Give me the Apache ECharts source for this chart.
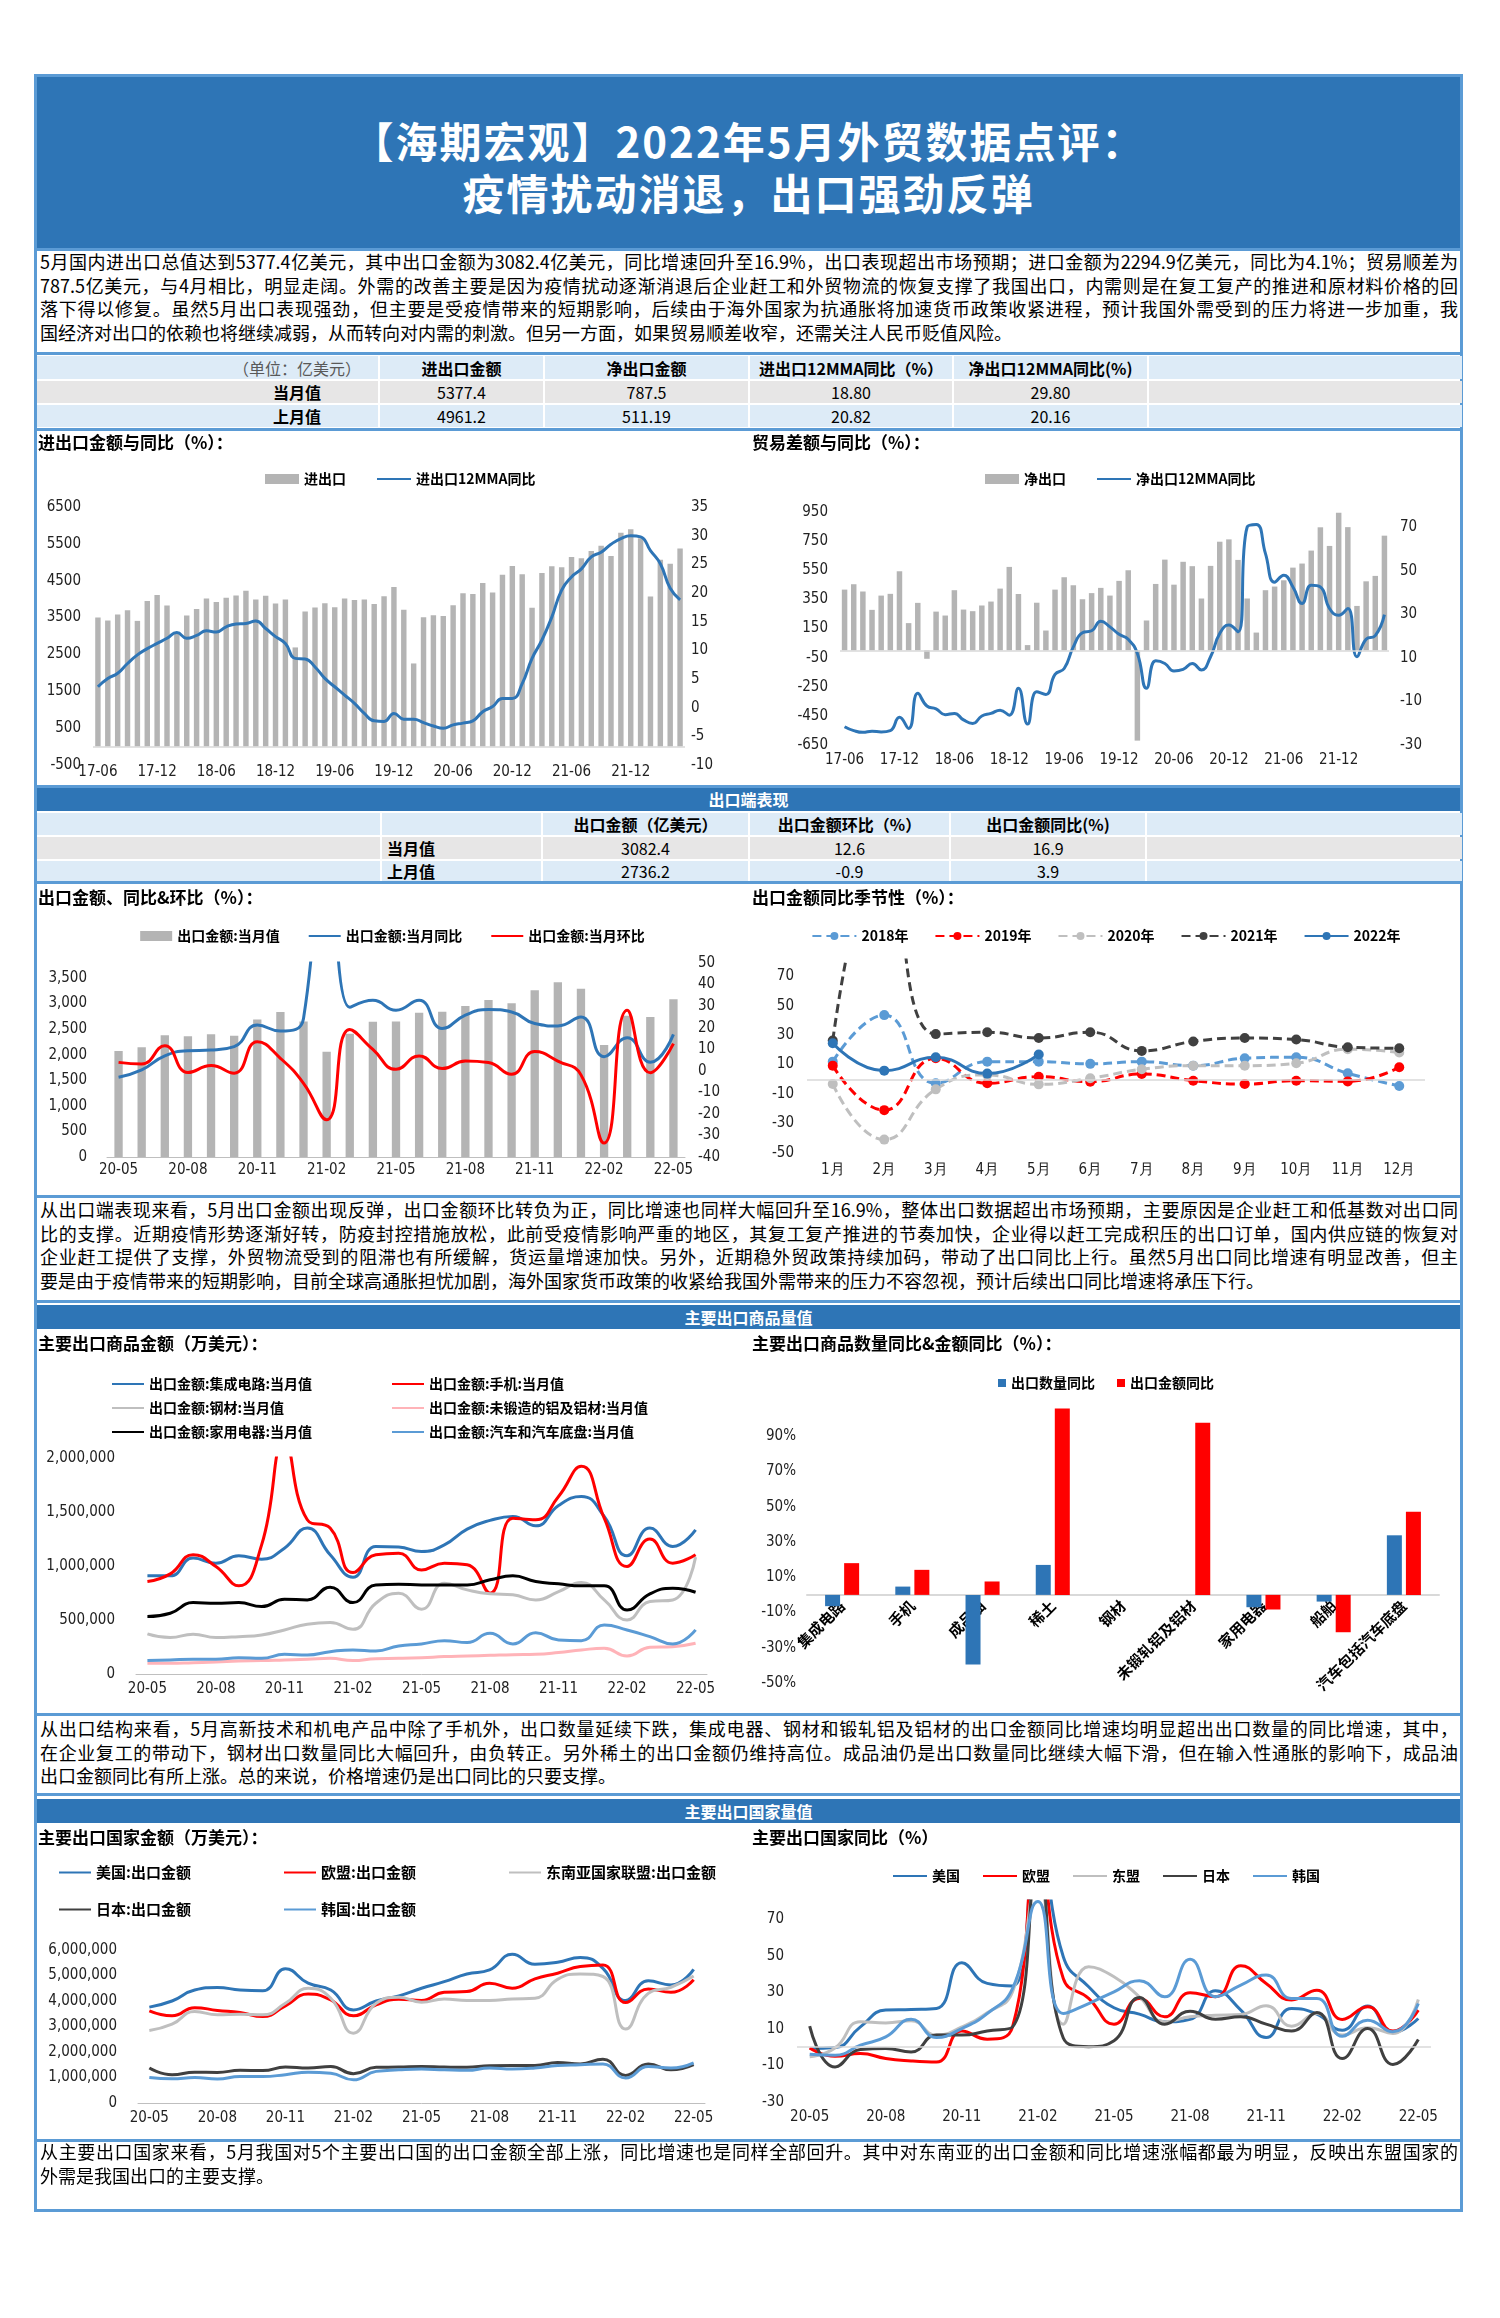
<!DOCTYPE html>
<html>
<head>
<meta charset="utf-8">
<title>海期宏观 2022年5月外贸数据点评</title>
<script src="https://cdn.jsdelivr.net/npm/echarts@6/dist/echarts.min.js"></script>
<style>
    body { margin: 0; width: 1500px; height: 2318px; background: #fff; position: relative; color: #000;
           font-family: "Noto Sans CJK SC", sans-serif; }
    .abs { position: absolute; }
    .frame { left: 34px; top: 74px; width: 1429px; height: 2138px; border: 3px solid #5B9BD5; box-sizing: border-box; }
    .band { left: 37px; width: 1423px; background: #2E75B6; color: #fff; font-weight: bold; text-align: center; }
    .hline { left: 36px; width: 1427px; height: 3px; background: #5B9BD5; }
    .para { left: 40px; width: 1418px; font-size: 18px; line-height: 23.5px; }
    .para div { white-space: nowrap; text-align: justify; text-align-last: justify; }
    .para div.last { text-align-last: left; }
    .ctitle { font-size: 17px; font-weight: bold; line-height: 22px; z-index: 2; }
    .cell { position: absolute; display: flex; align-items: center; justify-content: center; font-size: 16px; box-sizing: border-box; }
    .chart { position: absolute; }
</style>
</head>
<body>
<div class="abs frame"></div>

<div class="abs band" style="top:77px;height:171px;">
    <div style="font-size:42px;letter-spacing:2px;line-height:52px;padding-top:37px;">【海期宏观】2022年5月外贸数据点评：</div>
    <div style="font-size:42px;letter-spacing:2px;line-height:52px;">疫情扰动消退，出口强劲反弹</div>
</div>
<div class="abs hline" style="top:248px"></div>

<div class="abs para" style="top:250px">
    <div>5月国内进出口总值达到5377.4亿美元，其中出口金额为3082.4亿美元，同比增速回升至16.9%，出口表现超出市场预期；进口金额为2294.9亿美元，同比为4.1%；贸易顺差为</div>
    <div>787.5亿美元，与4月相比，明显走阔。外需的改善主要是因为疫情扰动逐渐消退后企业赶工和外贸物流的恢复支撑了我国出口，内需则是在复工复产的推进和原材料价格的回</div>
    <div>落下得以修复。虽然5月出口表现强劲，但主要是受疫情带来的短期影响，后续由于海外国家为抗通胀将加速货币政策收紧进程，预计我国外需受到的压力将进一步加重，我</div>
    <div class="last">国经济对出口的依赖也将继续减弱，从而转向对内需的刺激。但另一方面，如果贸易顺差收窄，还需关注人民币贬值风险。</div>
</div>
<div class="abs hline" style="top:352px"></div>
<div id="table1"></div>
<div class="abs hline" style="top:428px"></div>

<div class="abs ctitle" style="left:38px;top:431px">进出口金额与同比（%）：</div>
<div class="abs ctitle" style="left:752px;top:431px">贸易差额与同比（%）：</div>
<div id="c1" class="chart" style="left:36px;top:432px;width:713px;height:353px"></div>
<div id="c2" class="chart" style="left:749px;top:432px;width:714px;height:353px"></div>

<div class="abs hline" style="top:785px"></div>
<div class="abs band" style="top:788px;height:23px;font-size:16px;line-height:23px;">出口端表现</div>
<div id="table2"></div>
<div class="abs hline" style="top:881px"></div>

<div class="abs ctitle" style="left:38px;top:886px">出口金额、同比&amp;环比（%）：</div>
<div class="abs ctitle" style="left:752px;top:886px">出口金额同比季节性（%）：</div>
<div id="c3" class="chart" style="left:36px;top:883px;width:713px;height:312px"></div>
<div id="c4" class="chart" style="left:749px;top:883px;width:714px;height:312px"></div>

<div class="abs hline" style="top:1195px"></div>
<div class="abs para" style="top:1198px">
    <div>从出口端表现来看，5月出口金额出现反弹，出口金额环比转负为正，同比增速也同样大幅回升至16.9%，整体出口数据超出市场预期，主要原因是企业赶工和低基数对出口同</div>
    <div>比的支撑。近期疫情形势逐渐好转，防疫封控措施放松，此前受疫情影响严重的地区，其复工复产推进的节奏加快，企业得以赶工完成积压的出口订单，国内供应链的恢复对</div>
    <div>企业赶工提供了支撑，外贸物流受到的阻滞也有所缓解，货运量增速加快。另外，近期稳外贸政策持续加码，带动了出口同比上行。虽然5月出口同比增速有明显改善，但主</div>
    <div class="last">要是由于疫情带来的短期影响，目前全球高通胀担忧加剧，海外国家货币政策的收紧给我国外需带来的压力不容忽视，预计后续出口同比增速将承压下行。</div>
</div>
<div class="abs hline" style="top:1300px"></div>
<div class="abs band" style="top:1305px;height:24px;font-size:16px;line-height:24px;">主要出口商品量值</div>

<div class="abs ctitle" style="left:38px;top:1332px">主要出口商品金额（万美元）：</div>
<div class="abs ctitle" style="left:752px;top:1332px">主要出口商品数量同比&amp;金额同比（%）：</div>
<div id="c5" class="chart" style="left:36px;top:1330px;width:713px;height:383px"></div>
<div id="c6" class="chart" style="left:749px;top:1330px;width:714px;height:383px"></div>

<div class="abs hline" style="top:1713px"></div>
<div class="abs para" style="top:1717px">
    <div>从出口结构来看，5月高新技术和机电产品中除了手机外，出口数量延续下跌，集成电器、钢材和锻轧铝及铝材的出口金额同比增速均明显超出出口数量的同比增速，其中，</div>
    <div>在企业复工的带动下，钢材出口数量同比大幅回升，由负转正。另外稀土的出口金额仍维持高位。成品油仍是出口数量同比继续大幅下滑，但在输入性通胀的影响下，成品油</div>
    <div class="last">出口金额同比有所上涨。总的来说，价格增速仍是出口同比的只要支撑。</div>
</div>
<div class="abs hline" style="top:1793px"></div>
<div class="abs band" style="top:1799px;height:24px;font-size:16px;line-height:24px;">主要出口国家量值</div>

<div class="abs ctitle" style="left:38px;top:1826px">主要出口国家金额（万美元）：</div>
<div class="abs ctitle" style="left:752px;top:1826px">主要出口国家同比（%）</div>
<div id="c7" class="chart" style="left:36px;top:1824px;width:713px;height:315px"></div>
<div id="c8" class="chart" style="left:749px;top:1824px;width:714px;height:315px"></div>

<div class="abs hline" style="top:2139px"></div>
<div class="abs para" style="top:2140px">
    <div>从主要出口国家来看，5月我国对5个主要出口国的出口金额全部上涨，同比增速也是同样全部回升。其中对东南亚的出口金额和同比增速涨幅都最为明显，反映出东盟国家的</div>
    <div class="last">外需是我国出口的主要支撑。</div>
</div>

<script>
    // ---- 数据 ----
    var months60 = ['17-06', '17-07', '17-08', '17-09', '17-10', '17-11', '17-12',
        '18-01', '18-02', '18-03', '18-04', '18-05', '18-06', '18-07', '18-08', '18-09', '18-10', '18-11', '18-12',
        '19-01', '19-02', '19-03', '19-04', '19-05', '19-06', '19-07', '19-08', '19-09', '19-10', '19-11', '19-12',
        '20-01', '20-02', '20-03', '20-04', '20-05', '20-06', '20-07', '20-08', '20-09', '20-10', '20-11', '20-12',
        '21-01', '21-02', '21-03', '21-04', '21-05', '21-06', '21-07', '21-08', '21-09', '21-10', '21-11', '21-12',
        '22-01', '22-02', '22-03', '22-04', '22-05'];
    var months25 = ['20-05', '20-06', '20-07', '20-08', '20-09', '20-10', '20-11', '20-12',
        '21-01', '21-02', '21-03', '21-04', '21-05', '21-06', '21-07', '21-08', '21-09', '21-10', '21-11', '21-12',
        '22-01', '22-02', '22-03', '22-04', '22-05'];
    var monthNames = ['1月', '2月', '3月', '4月', '5月', '6月', '7月', '8月', '9月', '10月', '11月', '12月'];

    // 进出口（亿美元）与12MMA同比
    var tradeTotal = [3500, 3420, 3580, 3700, 3410, 3950, 4115, 3830, 3100, 3555, 3730, 4015, 3925, 4035, 4100, 4225, 3990, 4090, 3880, 3990,
        2690, 3665, 3775, 3890, 3780, 4015, 3980, 3990, 3870, 4080, 4330, 3710, 2255, 3510, 3565, 3540, 3835, 4160, 4140, 4440,
        4180, 4665, 4900, 4675, 3765, 4710, 4890, 4865, 5145, 5110, 5305, 5450, 5170, 5800, 5895, 5650, 4070, 5070, 4961.2, 5377.4];
    var tradeYoy12 = [3.65, 5.1, 6.0, 7.7, 9.2, 10.3, 11.2, 12.1, 13.1, 12.1, 12.6, 13.4, 13.2, 14.1, 14.6, 14.7, 15.1, 13.8, 12.4, 11.2,
        8.6, 8.5, 7.1, 5.1, 3.65, 2.2, 0.75, -1.0, -2.3, -2.4, -1.0, -2.0, -2.0, -2.6, -3.2, -3.6, -3.0, -2.7, -2.3, -0.7,
        0.2, 1.6, 1.6, 4.2, 8.6, 11.8, 15.8, 20.5, 22.8, 24.2, 26.3, 27.1, 28.5, 29.5, 30.0, 29.8, 27.4, 25.1, 20.82, 18.80];

    // 净出口（亿美元）与12MMA同比
    var netExport = [417, 454, 404, 278, 376, 388, 543, 187, 326, -58, 266, 239, 413, 280, 269, 308, 335, 424, 573, 387,
        36, 327, 136, 417, 502, 447, 351, 393, 429, 376, 477, 550, -620, 205, 456, 623, 451, 608, 578, 356,
        580, 746, 762, 621, 356, 122, 413, 438, 481, 568, 596, 685, 845, 717, 944, 846, 305, 474, 511.19, 787.5];
    var netYoy12 = [-21.6, -23.4, -24.2, -23.7, -24.0, -23.4, -17.3, -22.4, -6.3, -12.1, -13.4, -16.1, -15.5, -18.5, -20.1, -16.7, -15.5, -14.0, -16.3, -4.0,
        -20.4, -5.6, -6.8, 2.4, 5.1, 15.0, 21.5, 22.4, 26.8, 24.2, 20.8, 18.5, 12.0, -4.0, 8.6, 7.4, 4.0, 4.7, 7.4, 4.4,
        10.5, 21.1, 25.0, 21.9, 70.0, 71.2, 57.8, 44.7, 47.9, 42.5, 34.9, 43.3, 42.5, 32.6, 29.5, 32.6, 10.5, 18.5, 20.16, 29.80];

    // 出口金额：当月值、同比、环比
    var exportValue = [2071, 2143, 2377, 2357, 2396, 2370, 2688, 2831, 2649, 2058, 2410, 2643, 2649, 2818, 2838, 2948, 3065, 3006, 3260, 3416,
        3286, 2188, 2761, 2736.2, 3082.4];
    var exportYoy = [-3.0, 0.4, 6.9, 9.3, 9.6, 11.2, 21.2, 18.4, 24.3, 154.9, 29.5, 32.7, 28.1, 32.7, 19.6, 25.8, 28.4, 27.3, 21.9, 20.8,
        25.0, 6.5, 15.3, 3.9, 16.9];
    var exportMom = [3.9, 3.2, 11.6, -0.8, 2.4, -1.1, 13.5, 5.8, -5.8, -22.7, 19.2, 9.9, 0.7, 6.9, 1.0, 4.5, 3.8, -1.6, 8.9, 4.5,
        -1.9, -33.5, 28.1, -0.9, 12.6];

    // 出口金额同比季节性
    var yoy2018 = [12.0, 43.6, -2.7, 12.0, 12.0, 10.5, 12.0, 9.3, 14.3, 15.0, 4.1, -4.5];
    var yoy2019 = [9.3, -20.9, 14.3, -2.7, 1.8, -1.6, 3.6, -0.9, -3.2, -0.9, -1.4, 8.2];
    var yoy2020 = [-3.2, -40.9, -6.8, 3.0, -3.4, 0.7, 6.8, 9.3, 9.3, 10.9, 20.5, 18.2];
    var yoy2021 = [26.4, 154.9, 30.7, 32.0, 28.0, 32.0, 19.3, 25.7, 28.0, 27.0, 21.8, 21.1];
    var yoy2022 = [24.5, 5.9, 15.0, 3.9, 16.9];

    // 主要出口商品金额（万美元）
    var goodsIC = [909000, 909000, 1073000, 1026000, 1094000, 1063000, 1165000, 1351000, 1104000, 896000, 1181000, 1175000, 1134000,
        1196000, 1342000, 1422000, 1459000, 1372000, 1561000, 1644000, 1459000, 1094000, 1351000, 1181000, 1335000];
    var goodsPhone = [856000, 927000, 1104000, 995000, 816000, 1196000, 2150000, 1428000, 1351000, 940000, 1104000, 1119000, 964000,
        1026000, 1011000, 748000, 1443000, 1428000, 1644000, 1923000, 1443000, 995000, 1249000, 1026000, 1104000];
    var goodsSteel = [371000, 337000, 368000, 337000, 346000, 362000, 408000, 461000, 476000, 414000, 655000, 748000, 600000,
        841000, 779000, 742000, 733000, 686000, 763000, 847000, 686000, 501000, 671000, 686000, 1082000];
    var goodsAlu = [99000, 99000, 105000, 111000, 121000, 124000, 130000, 136000, 145000, 124000, 142000, 145000, 151000,
        161000, 167000, 173000, 179000, 182000, 198000, 223000, 238000, 167000, 247000, 253000, 284000];
    var goodsAppliance = [532000, 563000, 661000, 655000, 661000, 624000, 692000, 686000, 804000, 661000, 825000, 831000, 825000,
        825000, 825000, 872000, 909000, 856000, 835000, 816000, 816000, 593000, 742000, 794000, 757000];
    var goodsAuto = [124000, 130000, 136000, 136000, 151000, 145000, 182000, 176000, 207000, 223000, 213000, 260000, 278000,
        309000, 291000, 377000, 278000, 383000, 315000, 309000, 454000, 408000, 346000, 278000, 408000];

    // 主要出口商品数量同比&金额同比（%）
    var goodsNames = ['集成电路', '手机', '成品油', '稀土', '钢材', '未锻轧铝及铝材', '家用电器', '船舶', '汽车包括汽车底盘'];
    var goodsQtyYoy = [-6.4, 4.7, -39.5, 17.0, null, null, -7.0, -3.8, 33.8];
    var goodsAmtYoy = [18.0, 14.2, 7.6, 105.7, null, 97.6, -8.3, -21.2, 47.2];

    // 主要出口国家金额（万美元）
    var ctyUS = [3760000, 4000000, 4430000, 4530000, 4430000, 4400000, 5260000, 4700000, 4430000, 3650000, 4000000, 4200000, 4500000,
        4760000, 5060000, 5220000, 5830000, 5440000, 5520000, 5710000, 5280000, 4020000, 4790000, 4630000, 5240000];
    var ctyEU = [3610000, 3420000, 3740000, 3630000, 3550000, 3390000, 3810000, 4270000, 4040000, 3420000, 3850000, 4070000, 4020000,
        4340000, 4370000, 4700000, 4500000, 4870000, 5090000, 5350000, 5410000, 3940000, 4470000, 4340000, 4830000];
    var ctyASEAN = [2840000, 3090000, 3590000, 3460000, 3480000, 3460000, 3910000, 4500000, 4110000, 2740000, 3910000, 4150000, 3950000,
        4080000, 4020000, 4020000, 4080000, 4110000, 4850000, 5060000, 4960000, 2900000, 4300000, 4540000, 4980000];
    var ctyJP = [1370000, 1110000, 1210000, 1200000, 1280000, 1270000, 1410000, 1370000, 1430000, 1150000, 1400000, 1410000, 1430000,
        1410000, 1400000, 1460000, 1470000, 1470000, 1590000, 1530000, 1720000, 1080000, 1530000, 1300000, 1500000];
    var ctyKR = [1000000, 950000, 1000000, 940000, 1040000, 1040000, 1110000, 1210000, 1170000, 910000, 1240000, 1300000, 1330000,
        1300000, 1280000, 1370000, 1330000, 1370000, 1470000, 1500000, 1530000, 980000, 1430000, 1370000, 1570000];

    // 主要出口国家同比（%）
    var yoyUS = [-0.7, -0.2, 11.1, 20.3, 20.6, 21.2, 46.2, 34.9, 33.5, 120, 49.5, 33.1, 21.6, 18.1, 13.9, 15.2, 30.9, 20.3, 5.3, 21.2,
        18.1, 9.3, 22.5, 8.0, 15.7];
    var yoyEU = [-0.4, -5.0, -3.5, -6.2, -7.5, -8.1, 8.8, 4.4, 11.1, 110, 37.6, 26.7, 12.6, 26.7, 16.6, 29.8, 27.6, 44.6, 34.9, 25.8,
        31.2, 15.2, 22.1, 8.8, 20.3];
    var yoyASEAN = [-5.3, -0.4, 13.9, 13.3, 14.4, 6.6, 11.1, 18.8, 30.3, 90, 12.6, 44.0, 38.5, 27.6, 13.9, 16.6, 17.5, 17.9, 22.7, 11.5,
        18.4, 6.6, 10.6, 7.5, 26.1];
    var yoyJP = [11.5, -10.8, -1.3, -0.7, -2.6, 6.6, 6.6, 8.9, 11.1, 100, 5.0, 0.3, 3.5, 27.2, 12.6, 19.7, 15.3, 16.6, 12.6, 8.9,
        19.0, -6.2, 10.2, -9.5, 4.2];
    var yoyKR = [-3.9, -4.4, 1.1, 5.6, 15.3, 5.3, 10.2, 18.4, 32.2, 79.7, 18.4, 23.9, 30.3, 36.4, 27.6, 48.1, 27.6, 34.0, 39.5, 26.7,
        26.7, 6.0, 14.8, 8.4, 23.9];

    // 表格
    var table1Cells = [
        ['（单位：亿美元）', '进出口金额', '净出口金额', '进出口12MMA同比（%）', '净出口12MMA同比(%)', ''],
        ['当月值', '5377.4', '787.5', '18.80', '29.80', ''],
        ['上月值', '4961.2', '511.19', '20.82', '20.16', '']
    ];
    var table2Cells = [
        ['', '', '出口金额（亿美元）', '出口金额环比（%）', '出口金额同比(%)', ''],
        ['', '当月值', '3082.4', '12.6', '16.9', ''],
        ['', '上月值', '2736.2', '-0.9', '3.9', '']
    ];

    // ---- 表格绘制 ----
    var rowColors = ['#DDEBF7', '#E7E6E6', '#DDEBF7'];

    function makeTable(holderId, edges, rows, cells, labelCol, labelStyle) {
        var holder = document.getElementById(holderId);
        cells.forEach(function (row, r) {
            row.forEach(function (txt, k) {
                var d = document.createElement('div');
                d.className = 'cell';
                d.style.left = (edges[k] + 1) + 'px';
                d.style.width = (edges[k + 1] - edges[k] - 2) + 'px';
                d.style.top = rows[r][0] + 'px';
                d.style.height = (rows[r][1] - rows[r][0]) + 'px';
                d.style.background = rowColors[r];
                if (r === 0 || k === labelCol) d.style.fontWeight = 'bold';
                if (k === labelCol) {
                    for (var s in labelStyle) d.style[s] = labelStyle[s];
                }
                if (holderId === 'table1' && r === 0 && k === 0) {
                    d.style.fontWeight = 'normal';
                    d.style.color = '#595959';
                }
                d.textContent = txt;
                holder.appendChild(d);
            });
        });
    }

    makeTable('table1', [36, 379, 544, 749, 953, 1148, 1463], [[356, 379], [381, 403], [405, 427]], table1Cells, 0,
        {paddingLeft: '179px'});
    makeTable('table2', [36, 381, 542, 749, 950, 1146, 1463], [[813, 835], [837, 859], [861, 881]], table2Cells, 1,
        {justifyContent: 'flex-start', paddingLeft: '5px'});

    // ---- 图表 ----
    var CJK = "'Noto Sans CJK SC', sans-serif";
    var NARROW = "'Liberation Sans Narrow', 'DejaVu Sans Condensed', sans-serif";
    var legendText = {fontSize: 14, fontWeight: 'bold', color: '#000', fontFamily: CJK};
    var tickText = {fontFamily: NARROW, fontSize: 15, color: '#222'};
    // 图例里的折线只画线，不画圆点
    var lineOnly = {opacity: 0};

    function plain(v) {
        return String(v);
    }

    function commas(v) {
        return v.toLocaleString('en-US');
    }

    function yAxisOf(min, max, interval, margin, formatter, hideMax) {
        return {
            type: 'value', min: min, max: max, interval: interval,
            splitLine: {show: false}, axisLine: {show: false}, axisTick: {show: false},
            axisLabel: Object.assign({margin: margin, formatter: formatter || plain, showMaxLabel: !hideMax}, tickText)
        };
    }

    function zeroLine(color) {
        return {
            silent: true, symbol: 'none', animation: false, label: {show: false},
            lineStyle: {color: color || '#D9D9D9', width: 1.5, type: 'solid'},
            data: [{yAxis: 0}]
        };
    }

    function lineSeries(name, data, color, width, extra) {
        return Object.assign({
            name: name, type: 'line', data: data, smooth: true, symbol: 'none',
            lineStyle: {color: color, width: width || 3}, itemStyle: {color: color}
        }, extra || {});
    }

    // 进出口金额与同比
    var c1 = echarts.init(document.getElementById('c1'));
    c1.setOption({
        animation: false,
        textStyle: {fontFamily: CJK},
        legend: {top: 35, left: 224, itemWidth: 34, itemHeight: 10, itemGap: 30, textStyle: legendText,
            data: [{name: '进出口', icon: 'rect'}, {name: '进出口12MMA同比', itemStyle: lineOnly}]},
        grid: {left: 57, right: 64, top: 75, bottom: 20, outerBoundsMode: 'none'},
        xAxis: {type: 'category', data: months60, axisLine: {show: false, onZero: false}, axisTick: {show: false},
            axisLabel: Object.assign({interval: 5, margin: 0}, tickText)},
        yAxis: [yAxisOf(-500, 6500, 1000, 12), yAxisOf(-10, 35, 5, 6)],
        series: [
            {name: '进出口', type: 'bar', data: tradeTotal, barWidth: '55%', itemStyle: {color: '#B4B4B4'}, markLine: zeroLine()},
            lineSeries('进出口12MMA同比', tradeYoy12, '#2E75B6', 3, {yAxisIndex: 1})
        ]
    });

    // 贸易差额与同比
    var c2 = echarts.init(document.getElementById('c2'));
    c2.setOption({
        animation: false,
        textStyle: {fontFamily: CJK},
        legend: {top: 35, left: 231, itemWidth: 34, itemHeight: 10, itemGap: 30, textStyle: legendText,
            data: [{name: '净出口', icon: 'rect'}, {name: '净出口12MMA同比', itemStyle: lineOnly}]},
        grid: {left: 91, right: 74, top: 80, bottom: 40, outerBoundsMode: 'none'},
        xAxis: {type: 'category', data: months60, axisLine: {show: false, onZero: false}, axisTick: {show: false},
            axisLabel: Object.assign({interval: 5, margin: 8}, tickText)},
        yAxis: [yAxisOf(-650, 950, 200, 12), yAxisOf(-30, 76.9, 20, 11, null, true)],
        series: [
            {name: '净出口', type: 'bar', data: netExport, barWidth: '60%', itemStyle: {color: '#B4B4B4'}, markLine: zeroLine()},
            lineSeries('净出口12MMA同比', netYoy12, '#2E75B6', 3, {yAxisIndex: 1})
        ]
    });

    // 出口金额、同比&环比
    var c3 = echarts.init(document.getElementById('c3'));
    c3.setOption({
        animation: false,
        textStyle: {fontFamily: CJK},
        legend: {top: 41, left: 'center', itemWidth: 32, itemHeight: 10, itemGap: 28, textStyle: legendText,
            data: [{name: '出口金额:当月值', icon: 'rect'}, {name: '出口金额:当月同比', itemStyle: lineOnly},
                {name: '出口金额:当月环比', itemStyle: lineOnly}]},
        grid: {left: 71, right: 64, top: 80, bottom: 38, outerBoundsMode: 'none'},
        xAxis: {type: 'category', data: months25, axisLine: {lineStyle: {color: '#BFBFBF'}},
            axisTick: {lineStyle: {color: '#BFBFBF'}},
            axisLabel: Object.assign({interval: 2, margin: 6}, tickText)},
        yAxis: [yAxisOf(0, 3790, 500, 20, commas, true), yAxisOf(-40, 50, 10, 13)],
        series: [
            {name: '出口金额:当月值', type: 'bar', data: exportValue, barWidth: '36%', itemStyle: {color: '#B4B4B4'}},
            lineSeries('出口金额:当月同比', exportYoy, '#2E75B6', 3, {yAxisIndex: 1}),
            lineSeries('出口金额:当月环比', exportMom, '#FF0000', 3, {yAxisIndex: 1})
        ]
    });

    // 出口金额同比季节性
    function seasonSeries(name, data, color, dashed) {
        return {
            name: name, type: 'line', data: data, smooth: true, symbol: 'circle', symbolSize: 10,
            lineStyle: {color: color, width: 3, type: dashed ? [9, 5] : 'solid'},
            itemStyle: {color: color}
        };
    }

    var c4 = echarts.init(document.getElementById('c4'));
    var s2018 = seasonSeries('2018年', yoy2018, '#5B9BD5', true);
    s2018.markLine = zeroLine('#D9D9D9');
    c4.setOption({
        animation: false,
        textStyle: {fontFamily: CJK},
        legend: {top: 41, left: 'center', itemWidth: 44, itemHeight: 10, itemGap: 26, textStyle: legendText},
        grid: {left: 58, right: 38, top: 77, bottom: 42, outerBoundsMode: 'none'},
        xAxis: {type: 'category', data: monthNames, axisLine: {show: false, onZero: false}, axisTick: {show: false},
            axisLabel: Object.assign({interval: 0, margin: 10}, tickText)},
        yAxis: yAxisOf(-50, 81, 20, 13, null, true),
        series: [
            s2018,
            seasonSeries('2019年', yoy2019, '#FF0000', true),
            seasonSeries('2020年', yoy2020, '#BFBFBF', true),
            seasonSeries('2021年', yoy2021, '#404040', true),
            seasonSeries('2022年', yoy2022, '#2E75B6', false)
        ]
    });

    // 主要出口商品金额
    var c5 = echarts.init(document.getElementById('c5'));
    var c5Legend = {orient: 'vertical', top: 42, itemWidth: 32, itemHeight: 14, itemGap: 10, textStyle: legendText,
        itemStyle: lineOnly};
    c5.setOption({
        animation: false,
        textStyle: {fontFamily: CJK},
        legend: [
            Object.assign({left: 70, data: ['出口金额:集成电路:当月值', '出口金额:钢材:当月值', '出口金额:家用电器:当月值']}, c5Legend),
            Object.assign({left: 350, data: ['出口金额:手机:当月值', '出口金额:未锻造的铝及铝材:当月值', '出口金额:汽车和汽车底盘:当月值']}, c5Legend)
        ],
        grid: {left: 100, right: 42, top: 128, bottom: 39, outerBoundsMode: 'none'},
        xAxis: {type: 'category', data: months25, axisLine: {lineStyle: {color: '#BFBFBF'}},
            axisTick: {lineStyle: {color: '#BFBFBF'}},
            axisLabel: Object.assign({interval: 2, margin: 8}, tickText)},
        yAxis: yAxisOf(0, 2000000, 500000, 21, commas),
        series: [
            lineSeries('出口金额:集成电路:当月值', goodsIC, '#2E75B6'),
            lineSeries('出口金额:手机:当月值', goodsPhone, '#FF0000'),
            lineSeries('出口金额:钢材:当月值', goodsSteel, '#BFBFBF'),
            lineSeries('出口金额:未锻造的铝及铝材:当月值', goodsAlu, '#FFB3B8'),
            lineSeries('出口金额:家用电器:当月值', goodsAppliance, '#000000'),
            lineSeries('出口金额:汽车和汽车底盘:当月值', goodsAuto, '#5B9BD5')
        ]
    });

    // 主要出口商品数量同比&金额同比：类目轴放在0刻度处
    var c6Grid = {left: 58, right: 24, top: 71, bottom: 30};
    var c6Min = -50, c6Max = 110;
    var c6PlotH = 383 - c6Grid.top - c6Grid.bottom;
    var c6ZeroOffset = -Math.round(c6PlotH * (0 - c6Min) / (c6Max - c6Min));
    var c6 = echarts.init(document.getElementById('c6'));
    c6.setOption({
        animation: false,
        textStyle: {fontFamily: CJK},
        legend: {top: 41, left: 'center', icon: 'rect', itemWidth: 8, itemHeight: 8, itemGap: 22, textStyle: legendText},
        grid: Object.assign({outerBoundsMode: 'none'}, c6Grid),
        xAxis: {type: 'category', data: goodsNames, offset: c6ZeroOffset,
            axisLine: {onZero: false, lineStyle: {color: '#D9D9D9', width: 2}}, axisTick: {show: false},
            axisLabel: {interval: 0, rotate: 45, margin: 8, fontSize: 15, fontWeight: 'bold', color: '#000', fontFamily: CJK}},
        yAxis: yAxisOf(c6Min, c6Max, 20, 11, '{value}%', true),
        series: [
            {name: '出口数量同比', type: 'bar', data: goodsQtyYoy, barWidth: 15, barGap: '27%', itemStyle: {color: '#2E75B6'}},
            {name: '出口金额同比', type: 'bar', data: goodsAmtYoy, barWidth: 15, itemStyle: {color: '#FF0000'}}
        ]
    });

    // 主要出口国家金额
    var c7 = echarts.init(document.getElementById('c7'));
    var c7Legend = {orient: 'vertical', top: 36, itemWidth: 32, itemHeight: 14, itemGap: 22, itemStyle: lineOnly,
        textStyle: Object.assign({}, legendText, {fontSize: 15})};
    c7.setOption({
        animation: false,
        textStyle: {fontFamily: CJK},
        legend: [
            Object.assign({left: 17, data: ['美国:出口金额', '日本:出口金额']}, c7Legend),
            Object.assign({left: 242, data: ['欧盟:出口金额', '韩国:出口金额']}, c7Legend),
            Object.assign({left: 467, data: ['东南亚国家联盟:出口金额']}, c7Legend)
        ],
        grid: {left: 102, right: 44, top: 126, bottom: 36, outerBoundsMode: 'none'},
        xAxis: {type: 'category', data: months25, axisLine: {lineStyle: {color: '#BFBFBF'}},
            axisTick: {lineStyle: {color: '#BFBFBF'}},
            axisLabel: Object.assign({interval: 2, margin: 8}, tickText)},
        yAxis: yAxisOf(0, 6000000, 1000000, 21, commas),
        series: [
            lineSeries('美国:出口金额', ctyUS, '#2E75B6'),
            lineSeries('欧盟:出口金额', ctyEU, '#FF0000'),
            lineSeries('东南亚国家联盟:出口金额', ctyASEAN, '#BFBFBF'),
            lineSeries('日本:出口金额', ctyJP, '#404040'),
            lineSeries('韩国:出口金额', ctyKR, '#5B9BD5')
        ]
    });

    // 主要出口国家同比
    var c8 = echarts.init(document.getElementById('c8'));
    var sUS = lineSeries('美国', yoyUS, '#2E75B6');
    sUS.markLine = zeroLine('#D9D9D9');
    c8.setOption({
        animation: false,
        textStyle: {fontFamily: CJK},
        legend: {top: 40, left: 'center', itemWidth: 34, itemHeight: 10, itemGap: 22, textStyle: legendText,
            itemStyle: lineOnly},
        grid: {left: 48, right: 32, top: 77, bottom: 37, outerBoundsMode: 'none'},
        xAxis: {type: 'category', data: months25, axisLine: {show: false, onZero: false}, axisTick: {show: false},
            axisLabel: Object.assign({interval: 2, margin: 8}, tickText)},
        yAxis: yAxisOf(-30, 80, 20, 13, null, true),
        series: [
            sUS,
            lineSeries('欧盟', yoyEU, '#FF0000'),
            lineSeries('东盟', yoyASEAN, '#BFBFBF'),
            lineSeries('日本', yoyJP, '#404040'),
            lineSeries('韩国', yoyKR, '#5B9BD5')
        ]
    });
</script>
</body>
</html>
